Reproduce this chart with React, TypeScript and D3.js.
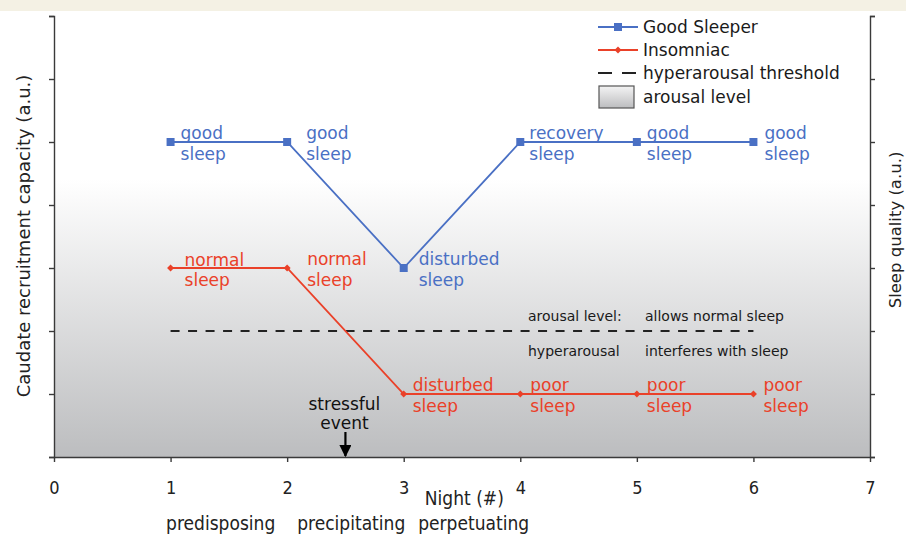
import React, { useEffect, useRef } from 'react';
import * as d3 from 'd3';

// chart data
const nights = [1, 2, 3, 4, 5, 6];
const goodSleeper = [5, 5, 3, 5, 5, 5];
const insomniac = [3, 3, 1, 1, 1, 1];
const goodLabels = [
  ['good', 'sleep'], ['good', 'sleep'], ['disturbed', 'sleep'],
  ['recovery', 'sleep'], ['good', 'sleep'], ['good', 'sleep'],
];
const insomLabels = [
  ['normal', 'sleep'], ['normal', 'sleep'], ['disturbed', 'sleep'],
  ['poor', 'sleep'], ['poor', 'sleep'], ['poor', 'sleep'],
];
const thresholdValue = 2;
const thresholdNights = [1, 6];
const xTicks = [0, 1, 2, 3, 4, 5, 6, 7];
const yTicks = [0, 1, 2, 3, 4, 5, 6, 7];
const phases = ['predisposing', 'precipitating', 'perpetuating'];
const phaseCenters = [1.43, 2.55, 3.6];
const stressNight = 2.5;
const legendItems = ['Good Sleeper', 'Insomniac', 'hyperarousal threshold', 'arousal level'];

const BLUE = '#4a70c4';
const RED = '#ea4129';
const FONT = '"DejaVu Sans", Verdana, sans-serif';
const NARROW = '"DejaVu Sans Condensed", Tahoma, sans-serif';

const W = 906;
const H = 534;

const App: React.FC = () => {
  const svgRef = useRef<SVGSVGElement | null>(null);

  useEffect(() => {
    if (!svgRef.current) return;
    const svg = d3.select(svgRef.current);
    svg.selectAll('*').remove();

    const x = d3.scaleLinear().domain([0, 7]).range([54, 870]);
    const y = d3.scaleLinear().domain([0, 7]).range([457, 16]);

    const defs = svg.append('defs');
    const bg = defs.append('linearGradient').attr('id', 'bgGrad')
      .attr('x1', 0).attr('y1', 0).attr('x2', 0).attr('y2', 1);
    bg.append('stop').attr('offset', '0%').attr('stop-color', '#ffffff');
    bg.append('stop').attr('offset', '37%').attr('stop-color', '#ffffff');
    bg.append('stop').attr('offset', '100%').attr('stop-color', '#bcbdbf');

    const lg = defs.append('linearGradient').attr('id', 'legGrad')
      .attr('x1', 0).attr('y1', 0).attr('x2', 0).attr('y2', 1);
    lg.append('stop').attr('offset', '0%').attr('stop-color', '#f4f4f4');
    lg.append('stop').attr('offset', '100%').attr('stop-color', '#bcbdbf');

    defs.append('marker').attr('id', 'arrow')
      .attr('viewBox', '0 0 10 10').attr('refX', 9).attr('refY', 5)
      .attr('markerWidth', 5.5).attr('markerHeight', 5.5).attr('orient', 'auto')
      .append('path').attr('d', 'M0,0 L10,5 L0,10 Z').attr('fill', '#000');

    // page band + white
    svg.append('rect').attr('width', W).attr('height', H).attr('fill', '#fff');
    svg.append('rect').attr('width', W).attr('height', 11).attr('fill', '#f4f1e4');

    // arousal background
    svg.append('rect')
      .attr('x', x(0)).attr('y', y(7))
      .attr('width', x(7) - x(0)).attr('height', y(0) - y(7))
      .attr('fill', 'url(#bgGrad)');

    // axes
    const axisColor = '#3a3a3a';
    const styleAxis = (g: d3.Selection<SVGGElement, unknown, null, undefined>) => {
      g.selectAll('path, line').attr('stroke', axisColor).attr('stroke-width', 1.4);
      g.selectAll('text').remove();
    };
    svg.append('g').attr('transform', `translate(${x(0)},0)`)
      .call(d3.axisLeft(y).tickValues(yTicks).tickSize(5).tickSizeOuter(5))
      .call(styleAxis);
    svg.append('g').attr('transform', `translate(${x(7)},0)`)
      .call(d3.axisRight(y).tickValues(yTicks).tickSize(5).tickSizeOuter(5))
      .call(styleAxis);
    const xAxis = svg.append('g').attr('transform', `translate(0,${y(0)})`)
      .call(d3.axisBottom(x).tickValues(xTicks).tickFormat(d3.format('d')).tickSize(5).tickSizeOuter(0));
    xAxis.selectAll('path, line').attr('stroke', axisColor).attr('stroke-width', 1.4);
    xAxis.selectAll('text')
      .attr('y', 24)
      .style('font-family', NARROW)
      .style('font-size', '18px')
      .style('fill', '#222');

    // axis titles
    svg.append('text')
      .attr('transform', `translate(30,236) rotate(-90)`)
      .attr('text-anchor', 'middle')
      .style('font-family', FONT).style('font-size', '18px').style('fill', '#222')
      .text('Caudate  recruitment capacity (a.u.)');
    svg.append('text')
      .attr('transform', `translate(901,230) rotate(-90)`)
      .attr('text-anchor', 'middle')
      .style('font-family', FONT).style('font-size', '16.5px').style('fill', '#222')
      .text('Sleep  quality (a.u.)');

    const narrow = (t: d3.Selection<SVGTextElement, unknown, null, undefined>) =>
      t.style('font-family', NARROW).style('font-size', '19px').style('fill', '#222');

    svg.append('text').attr('x', x(3.52)).attr('y', 505).attr('text-anchor', 'middle')
      .call(narrow).text('Night (#)');
    phases.forEach((p, i) => {
      svg.append('text').attr('x', x(phaseCenters[i])).attr('y', 530)
        .attr('text-anchor', 'middle').call(narrow).text(p);
    });

    // threshold
    svg.append('line')
      .attr('x1', x(thresholdNights[0])).attr('x2', x(thresholdNights[1]))
      .attr('y1', y(thresholdValue)).attr('y2', y(thresholdValue))
      .attr('stroke', '#222').attr('stroke-width', 2)
      .attr('stroke-dasharray', '9,8.5');

    const midText = (tx: number, ty: number, s: string) =>
      svg.append('text').attr('x', tx).attr('y', ty)
        .style('font-family', FONT).style('font-size', '14px').style('fill', '#1a1a1a').text(s);
    midText(528, y(thresholdValue) - 10, 'arousal level:');
    midText(645, y(thresholdValue) - 10, 'allows normal sleep');
    midText(528, y(thresholdValue) + 25, 'hyperarousal');
    midText(645, y(thresholdValue) + 25, 'interferes with sleep');

    // lines
    const line = d3.line<number>().x((_, i) => x(nights[i])).y(d => y(d));
    svg.append('path').datum(goodSleeper).attr('d', line)
      .attr('fill', 'none').attr('stroke', BLUE).attr('stroke-width', 1.8);
    svg.append('path').datum(insomniac).attr('d', line)
      .attr('fill', 'none').attr('stroke', RED).attr('stroke-width', 1.8);

    svg.selectAll('.gm').data(goodSleeper).enter().append('rect')
      .attr('x', (_, i) => x(nights[i]) - 4).attr('y', d => y(d) - 4)
      .attr('width', 8).attr('height', 8).attr('fill', BLUE);
    svg.selectAll('.im').data(insomniac).enter().append('path')
      .attr('transform', (d, i) => `translate(${x(nights[i])},${y(d)})`)
      .attr('d', 'M0,-3.5 L3.5,0 L0,3.5 L-3.5,0 Z').attr('fill', RED);

    // point labels
    const goodDx = [10, 19, 15, 9, 10, 11];
    const insomDx = [14, 20, 9, 10, 10, 10];
    const labelFont = (t: d3.Selection<SVGTextElement, unknown, null, undefined>, c: string) =>
      t.style('font-family', FONT).style('font-size', '17px').style('fill', c);
    goodLabels.forEach((lab, i) => {
      const px = x(nights[i]) + goodDx[i];
      const py = y(goodSleeper[i]);
      svg.append('text').attr('x', px).attr('y', py - 3).call(labelFont, BLUE).text(lab[0]);
      svg.append('text').attr('x', px).attr('y', py + 18).call(labelFont, BLUE).text(lab[1]);
    });
    insomLabels.forEach((lab, i) => {
      const px = x(nights[i]) + insomDx[i];
      const py = y(insomniac[i]);
      const off = i === 0 ? 1 : 0;
      svg.append('text').attr('x', px).attr('y', py - 3 + off).call(labelFont, RED).text(lab[0]);
      svg.append('text').attr('x', px).attr('y', py + 18).call(labelFont, RED).text(lab[1]);
    });

    // stressful event
    const sx = x(stressNight);
    svg.append('text').attr('x', sx - 1).attr('y', 410).attr('text-anchor', 'middle')
      .style('font-family', FONT).style('font-size', '17px').style('fill', '#111').text('stressful');
    svg.append('text').attr('x', sx - 1).attr('y', 429).attr('text-anchor', 'middle')
      .style('font-family', FONT).style('font-size', '17px').style('fill', '#111').text('event');
    svg.append('line').attr('x1', sx).attr('x2', sx).attr('y1', 432).attr('y2', y(0) - 1)
      .attr('stroke', '#000').attr('stroke-width', 2.2).attr('marker-end', 'url(#arrow)');

    // legend
    const lx = 598;
    const lyRows = [27, 50, 73, 97];
    const leg = svg.append('g');
    leg.append('line').attr('x1', lx).attr('x2', lx + 40).attr('y1', lyRows[0]).attr('y2', lyRows[0])
      .attr('stroke', BLUE).attr('stroke-width', 1.8);
    leg.append('rect').attr('x', lx + 16).attr('y', lyRows[0] - 4).attr('width', 8).attr('height', 8).attr('fill', BLUE);
    leg.append('line').attr('x1', lx).attr('x2', lx + 40).attr('y1', lyRows[1]).attr('y2', lyRows[1])
      .attr('stroke', RED).attr('stroke-width', 1.8);
    leg.append('path').attr('transform', `translate(${lx + 20},${lyRows[1]})`)
      .attr('d', 'M0,-3.5 L3.5,0 L0,3.5 L-3.5,0 Z').attr('fill', RED);
    leg.append('line').attr('x1', lx).attr('x2', lx + 40).attr('y1', lyRows[2]).attr('y2', lyRows[2])
      .attr('stroke', '#222').attr('stroke-width', 2).attr('stroke-dasharray', '14,10');
    leg.append('rect').attr('x', lx + 1).attr('y', lyRows[3] - 11).attr('width', 35).attr('height', 22)
      .attr('fill', 'url(#legGrad)').attr('stroke', '#555').attr('stroke-width', 1.2);
    legendItems.forEach((s, i) => {
      leg.append('text').attr('x', 643).attr('y', lyRows[i] + 6)
        .style('font-family', FONT).style('font-size', '17px').style('fill', '#1a1a1a').text(s);
    });
  }, []);

  return (
    <svg ref={svgRef} width={W} height={H}
      style={{ position: 'absolute', left: 0, top: 0, display: 'block' }} />
  );
};

export default App;
